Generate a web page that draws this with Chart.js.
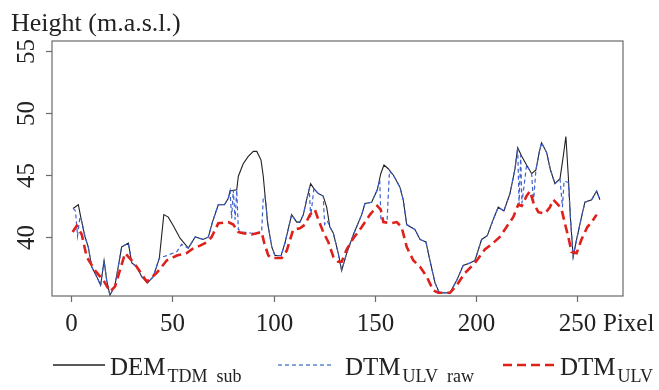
<!DOCTYPE html>
<html>
<head>
<meta charset="utf-8">
<script src="https://cdn.jsdelivr.net/npm/chart.js@4.4.1/dist/chart.umd.min.js"></script>
<style>
  body { margin: 0; background: #fff; }
  #wrap { width: 659px; height: 390px; }
</style>
</head>
<body>
<div id="wrap"><canvas id="profile" width="659" height="390"></canvas></div>
<script>
// profile data (x = pixel index, y = height m.a.s.l.)
var demX = [1, 3.6, 4.8, 6.9, 8.5, 10.2, 12.7, 14.6, 16.3, 17.6, 19.2, 21.7, 25, 28.3, 30, 32.4, 34.9, 37.7, 40.6, 43.6, 45.8, 48, 50.5, 53.8, 57.9, 61.3, 65.3, 67.8, 69.8, 72.7, 75.7, 77.6, 78.5, 81.8, 82.6, 85, 87.5, 90, 91.7, 93.8, 94.9, 95.8, 97.1, 99.1, 100.7, 103.7, 105.6, 108.9, 111.4, 113, 114.7, 116.3, 118.3, 119.9, 122.1, 124.5, 126.2, 127.8, 129.5, 131.9, 133.6, 136.1, 139.4, 143.5, 145.1, 148.4, 151.2, 152.9, 154.5, 156.6, 159.1, 162.4, 164, 165.7, 169.8, 172.3, 175.2, 177.2, 179.7, 181.8, 187.1, 190.4, 193.6, 196.9, 199.4, 202.7, 205.5, 208.4, 210.9, 213.7, 216.7, 219.2, 220.5, 222.5, 224.9, 227.4, 229.5, 231.1, 232.3, 234.8, 236.7, 238.9, 241.4, 243, 244.3, 245.5, 246.6, 247.9, 249.6, 252, 253.7, 257, 259.5, 261.1];
var demY = [42.3, 42.6, 41.6, 40.0, 39.2, 37.6, 36.8, 36.1, 38.1, 36.5, 35.3, 36.1, 39.2, 39.5, 37.9, 37.6, 36.8, 36.3, 36.8, 38.3, 41.8, 41.6, 40.9, 39.9, 39.1, 40.0, 39.8, 40.0, 41.2, 42.6, 42.6, 43.1, 43.7, 43.8, 44.9, 45.9, 46.5, 46.9, 46.9, 46.2, 44.9, 43.3, 41.1, 39.2, 38.5, 38.5, 39.5, 41.8, 41.2, 41.2, 41.8, 43.0, 44.3, 43.9, 43.5, 43.3, 42.4, 40.8, 40.3, 38.7, 37.3, 38.7, 40.2, 41.8, 42.7, 42.8, 43.8, 45.1, 45.8, 45.5, 45.0, 44.0, 43.0, 41.0, 40.6, 39.8, 39.6, 38.1, 36.3, 35.5, 35.5, 36.5, 37.7, 37.9, 38.1, 39.8, 40.1, 41.4, 42.4, 42.1, 43.5, 45.5, 47.2, 46.5, 45.8, 45.1, 45.4, 46.8, 47.6, 46.8, 45.4, 44.3, 44.7, 46.5, 48.1, 44.9, 41.4, 38.4, 39.8, 41.6, 42.8, 43.0, 43.7, 43.0];

var rawX = [1, 2.2, 3.2, 4.3, 4.8, 6.9, 8.5, 10.2, 12.7, 14.6, 16.3, 17.6, 19.2, 21.7, 25, 28.3, 30, 32.4, 34.9, 37.7, 40.6, 43.6, 47.2, 52.2, 54.6, 57.9, 61.3, 65.3, 67.8, 69.8, 72.7, 75.7, 77.6, 78.5, 79.3, 80.1, 81, 81.8, 82.6, 85, 89.2, 94.1, 94.9, 95.8, 97.1, 99.1, 100.7, 103.7, 105.6, 108.9, 111.4, 113, 114.7, 116.3, 117.6, 118.3, 119.9, 122.1, 124.5, 125.2, 126.5, 127.8, 129.5, 131.9, 133.6, 136.1, 139.4, 143.5, 145.1, 148.4, 151.2, 152.4, 153, 156, 157.2, 159.1, 162.4, 164, 165.7, 169.8, 172.3, 175.2, 177.2, 179.7, 181.8, 187.1, 190.4, 193.6, 196.9, 199.4, 202.7, 205.5, 208.4, 210.9, 213.7, 216.7, 219.2, 220.5, 221.2, 222, 222.6, 224.9, 227.4, 228.3, 229.5, 231.1, 232.3, 234.8, 236.7, 238.9, 241.4, 242.6, 243.4, 245.5, 246.6, 247.9, 249.6, 252, 253.7, 257, 259.5, 261.1];
var rawY = [42.3, 42.1, 40.1, 41.5, 41.6, 40.0, 39.2, 37.6, 36.8, 36.1, 38.1, 36.5, 35.3, 36.1, 39.2, 39.5, 37.9, 37.6, 36.8, 36.3, 36.8, 38.3, 38.5, 38.8, 39.4, 39.1, 40.0, 39.8, 40.0, 41.2, 42.6, 42.6, 43.1, 43.7, 41.5, 43.8, 41.4, 43.8, 40.6, 40.4, 40.3, 40.4, 43.2, 43.3, 41.1, 39.2, 38.5, 38.5, 39.5, 41.8, 41.2, 41.2, 41.8, 43.0, 43.9, 41.6, 43.9, 43.5, 43.3, 41.0, 41.3, 40.8, 40.3, 38.7, 37.3, 38.7, 40.2, 41.8, 42.7, 42.8, 43.8, 44.6, 41.3, 41.2, 45.3, 45.0, 44.0, 43.0, 41.0, 40.6, 39.8, 39.6, 38.1, 36.3, 35.5, 35.5, 36.5, 37.7, 37.9, 38.1, 39.8, 40.1, 41.4, 42.4, 42.1, 43.5, 45.5, 47.2, 42.6, 46.6, 42.7, 45.8, 45.1, 42.8, 45.4, 46.8, 47.6, 46.8, 45.4, 44.3, 44.7, 42.4, 44.5, 44.4, 41.4, 38.4, 39.8, 41.6, 42.8, 43.0, 43.7, 43.0];

var ulvX = [0.8, 2.8, 5.3, 7.7, 11.8, 16, 19.2, 21.7, 26.7, 30, 32.4, 37.4, 42.3, 47.2, 52.2, 57.1, 60.4, 63.7, 67.3, 69.4, 72.7, 77.6, 80.1, 82.6, 85, 89.2, 94.1, 95.4, 97.4, 99.1, 104, 106.5, 109.7, 113, 115.5, 118, 120.4, 122.1, 124.5, 127, 129.5, 131.9, 133.6, 136.1, 139.4, 143.5, 147.6, 151.2, 152.9, 154.2, 157.5, 160.8, 163.2, 165.7, 169, 172.3, 175.6, 178.8, 181.3, 187.1, 190.4, 194.5, 199.4, 204.3, 207.6, 211.7, 215, 218.3, 220.8, 222.5, 224.9, 226.6, 228.2, 230.7, 234, 236.4, 238.1, 240.5, 242.2, 243.8, 245.5, 247.1, 249.6, 252, 254.9, 257, 259.5];
var ulvY = [40.4, 40.9, 40.2, 38.4, 37.3, 36.5, 35.6, 36.0, 38.7, 38.1, 37.6, 36.4, 37.1, 38.1, 38.5, 38.7, 39.1, 39.3, 39.6, 40.0, 41.1, 41.2, 41.0, 40.4, 40.3, 40.2, 40.4, 39.5, 38.5, 38.3, 38.3, 38.9, 40.6, 40.7, 41.0, 41.8, 42.2, 41.4, 40.4, 39.6, 38.4, 38.0, 38.0, 39.0, 39.9, 40.8, 41.8, 42.5, 42.2, 41.2, 41.1, 41.2, 40.8, 39.2, 38.1, 37.6, 36.8, 35.7, 35.5, 35.5, 36.1, 37.1, 37.9, 39.0, 39.4, 40.0, 40.8, 41.6, 42.6, 42.5, 43.3, 43.7, 42.8, 42.0, 41.9, 42.4, 43.0, 42.6, 42.2, 41.1, 40.0, 38.8, 38.7, 39.8, 40.8, 41.2, 41.8];

var xTicks = [0, 50, 100, 150, 200, 250];
var yTicks = [40, 45, 50, 55];

function pairs(xs, ys) {
    return xs.map(function (v, i) { return { x: v, y: ys[i] }; });
}

var serif = '"Liberation Serif", "DejaVu Serif", serif';
var ink = "#222";

// box, outward ticks, rotated y labels, title and the subscript legend
var paper = {
    id: "paper",
    afterDraw: function (chart) {
        var ctx = chart.ctx, a = chart.chartArea;
        var xs = chart.scales.x, ys = chart.scales.y;
        ctx.save();
        ctx.strokeStyle = "#6a6a6a";
        ctx.lineWidth = 1.2;
        ctx.strokeRect(a.left, a.top, a.right - a.left, a.bottom - a.top);

        ctx.fillStyle = ink;
        ctx.font = "25px " + serif;
        ctx.textAlign = "center";
        ctx.textBaseline = "alphabetic";
        xTicks.forEach(function (t) {
            var px = Math.round(xs.getPixelForValue(t)) + 0.5;
            ctx.beginPath();
            ctx.moveTo(px, a.bottom);
            ctx.lineTo(px, a.bottom + 6);
            ctx.stroke();
            ctx.fillText(String(t), px, 331);
        });
        ctx.textAlign = "left";
        ctx.fillText("Pixel", 603, 331);

        yTicks.forEach(function (t) {
            var py = Math.round(ys.getPixelForValue(t)) + 0.5;
            ctx.beginPath();
            ctx.moveTo(a.left, py);
            ctx.lineTo(a.left - 6, py);
            ctx.stroke();
            ctx.save();
            ctx.translate(33.5, py);
            ctx.rotate(-Math.PI / 2);
            ctx.textAlign = "center";
            ctx.fillText(String(t), 0, 0);
            ctx.restore();
        });

        ctx.textAlign = "left";
        ctx.font = "26px " + serif;
        ctx.fillText("Height (m.a.s.l.)", 11, 31);

        // legend, subscripts split into words like plotmath spacing
        var items = [
            { x0: 53, x1: 105, color: "#222", width: 1.3, dash: [], tx: 110, main: "DEM", sub: ["TDM", "sub"] },
            { x0: 278, x1: 332, color: "#5b86c9", width: 1.5, dash: [4, 3], tx: 345, main: "DTM", sub: ["ULV", "raw"] },
            { x0: 503, x1: 556, color: "#e0201b", width: 2.6, dash: [9, 5], tx: 560, main: "DTM", sub: ["ULV"] }
        ];
        items.forEach(function (it) {
            ctx.beginPath();
            ctx.strokeStyle = it.color;
            ctx.lineWidth = it.width;
            ctx.setLineDash(it.dash);
            ctx.moveTo(it.x0, 365);
            ctx.lineTo(it.x1, 365);
            ctx.stroke();
            ctx.setLineDash([]);
            ctx.font = "25px " + serif;
            ctx.fillText(it.main, it.tx, 375);
            var sx = it.tx + ctx.measureText(it.main).width + 2;
            ctx.font = "18px " + serif;
            it.sub.forEach(function (word) {
                ctx.fillText(word, sx, 382);
                sx += ctx.measureText(word).width + 9;
            });
        });
        ctx.restore();
    }
};

var chart = new Chart(document.getElementById("profile"), {
    type: "scatter",
    data: {
        datasets: [
            {
                label: "DEM TDM sub",
                data: pairs(demX, demY),
                showLine: true,
                borderColor: "#222",
                borderWidth: 1.1,
                pointRadius: 0,
                tension: 0,
                order: 3
            },
            {
                label: "DTM ULV raw",
                data: pairs(rawX, rawY),
                showLine: true,
                borderColor: "#3d5fd0",
                borderWidth: 1.2,
                borderDash: [4, 3],
                pointRadius: 0,
                tension: 0,
                order: 2
            },
            {
                label: "DTM ULV",
                data: pairs(ulvX, ulvY),
                showLine: true,
                borderColor: "#e0201b",
                borderWidth: 2.6,
                borderDash: [9, 5],
                pointRadius: 0,
                tension: 0,
                order: 1
            }
        ]
    },
    options: {
        responsive: false,
        animation: false,
        layout: { padding: { top: 41, right: 36, left: 0, bottom: 0 } },
        plugins: {
            legend: { display: false },
            tooltip: { enabled: false }
        },
        scales: {
            x: {
                type: "linear",
                min: -9.4,
                max: 272.5,
                grid: { display: false },
                border: { display: false },
                ticks: { display: false },
                afterFit: function (s) { s.height = 94; }
            },
            y: {
                type: "linear",
                min: 35.24,
                max: 55.8,
                grid: { display: false },
                border: { display: false },
                ticks: { display: false },
                afterFit: function (s) { s.width = 52; }
            }
        }
    },
    plugins: [paper]
});
</script>
</body>
</html>
